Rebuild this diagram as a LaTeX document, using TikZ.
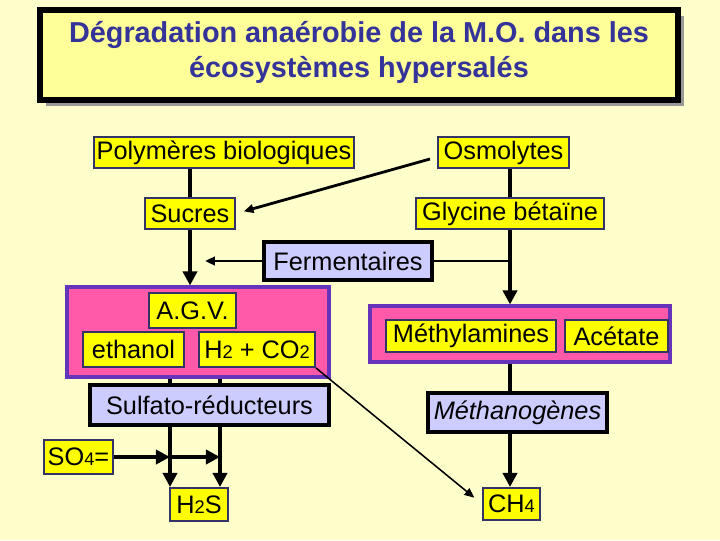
\documentclass[tikz,border=0pt]{standalone}
\usepackage{fontspec}
\setmainfont{Liberation Sans}
\usepackage{xcolor}
\usetikzlibrary{arrows.meta, fit}

\definecolor{fond}{HTML}{FFFFCC}
\definecolor{jaune}{HTML}{FFFF00}
\definecolor{jaunepale}{HTML}{FFFF99}
\definecolor{lavande}{HTML}{CCCCFF}
\definecolor{rose}{HTML}{FF5AAA}
\definecolor{violet}{HTML}{6633BB}
\definecolor{bleutitre}{HTML}{333399}
\definecolor{bordbleu}{HTML}{333366}
\definecolor{ombre}{HTML}{999999}

% petits chiffres (H2, CO2, SO4, CH4)
\newcommand{\ind}[1]{{\fontsize{13}{13}\selectfont #1}}

\tikzset{
  produit/.style={draw=bordbleu, line width=1.4pt, fill=jaune, font=\fontsize{18}{18}\selectfont, inner sep=0pt},
  groupe/.style={draw=violet, line width=2.2pt, fill=rose, inner sep=0pt},
  bacterie/.style={draw=black, line width=3.2pt, fill=lavande, font=\fontsize{18}{18}\selectfont, inner sep=0pt},
  trait/.style={line width=2.9pt},
  fleche/.style={line width=2.9pt, -{Triangle[length=10pt, width=10pt]}},
  fleche fine/.style={line width=1.5pt, -{Triangle[length=7pt, width=6pt]}},
}

\begin{document}
\begin{tikzpicture}[x=0.025cm, y=-0.025cm]

	% Background and bounding box
	\fill[fond] (0,0) rectangle (720,540);
	\useasboundingbox (0,0) rectangle (720,540);

	% Title box with its shadow
	\fill[ombre] (46,16) rectangle (684,106);
	\draw[line width=4pt, fill=jaunepale] (40,10) rectangle (678,100);
	\node[align=center, text=bleutitre, font=\bfseries\fontsize{20.5}{25}\selectfont] (titre) at (359,52)
		{Dégradation anaérobie de la M.O. dans les\\écosystèmes hypersalés};

	% Groups (pink boxes)
	\node[groupe, fit={(67,287) (329,377)}] (grpL) {};
	\node[groupe, fit={(370,306) (670,362)}] (grpR) {};

	% Substrates
	\node[produit, minimum width=6.5cm, minimum height=0.775cm] (poly) at (224,152.5) {Polymères biologiques};
	\node[produit, minimum width=3.275cm, minimum height=0.775cm] (osmo) at (503.5,152.5) {Osmolytes};
	\node[produit, minimum width=2.25cm, minimum height=0.775cm] (sucres) at (190,213.5) {Sucres};
	\node[produit, minimum width=4.7cm, minimum height=0.775cm] (glycine) at (510,213.5) {Glycine bétaïne};

	% Products
	\node[produit, minimum width=2.175cm, minimum height=0.875cm] (agv) at (192.5,310.5) {A.G.V.};
	\node[produit, minimum width=2.525cm, minimum height=0.875cm] (ethanol) at (133.5,349.5) {ethanol};
	\node[produit, minimum width=2.9cm, minimum height=0.875cm] (h2co2) at (257,349.5) {H\ind{2} + CO\ind{2}};
	\node[produit, minimum width=4.25cm, minimum height=0.8cm] (methylam) at (471,336) {Méthylamines};
	\node[produit, minimum width=2.575cm, minimum height=0.8cm] (acetate) at (616.5,336) {Acétate};
	\node[produit, minimum width=1.725cm, minimum height=0.85cm] (so4) at (78.5,457) {SO\ind{4}=};
	\node[produit, minimum width=1.45cm, minimum height=0.825cm] (h2s) at (199,504.5) {H\ind{2}S};
	\node[produit, minimum width=1.425cm, minimum height=0.8cm] (ch4) at (511.5,504) {CH\ind{4}};

	% Bacteria
	\node[bacterie, minimum width=4.2cm, minimum height=0.95cm] (ferm) at (348,261) {Fermentaires};
	\node[bacterie, minimum width=5.975cm, minimum height=1cm] (sulfato) at (209.5,405) {Sulfato-réducteurs};
	\node[bacterie, minimum width=4.475cm, minimum height=0.975cm, font=\itshape\fontsize{18}{18}\selectfont] (methano) at (517.5,412.5) {Méthanogènes};

	% Helper coordinates
	\coordinate (osmodep) at (430,159);
	\coordinate (fermpointe) at (205,0);
	\coordinate (colA) at (170,0);
	\coordinate (colB) at (220,0);

	% Left branch
	\draw[trait] (poly.south -| sucres) -- (sucres.north);
	\draw[fleche] (sucres.south) -- (grpL.north -| sucres);
	\draw[line width=2pt, -{Triangle[length=7pt, width=6pt]}, shorten >=0.2cm] (osmodep) -- (sucres.east);

	% Right branch
	\draw[trait] (osmo.south -| glycine) -- (glycine.north);
	\draw[fleche] (glycine.south) -- (grpR.north -| glycine);
	\draw[trait] (grpR.south -| glycine) -- (methano.north -| glycine);
	\draw[fleche] (methano.south -| glycine) -- (ch4.north -| glycine);

	% Fermentaires
	\draw[line width=2pt, -{Triangle[length=7pt, width=6pt]}] (ferm.west) -- (ferm.west -| fermpointe);
	\draw[line width=2pt] (ferm.east) -- (ferm.east -| glycine);

	% Sulfato-reducteurs
	\draw[trait] (grpL.south -| colA) -- (sulfato.north -| colA);
	\draw[trait] (grpL.south -| colB) -- (sulfato.north -| colB);
	\draw[fleche] (sulfato.south -| colA) -- (h2s.north -| colA);
	\draw[fleche] (sulfato.south -| colB) -- (h2s.north -| colB);
	\draw[fleche] (so4.east) -- (so4.east -| colA);
	\draw[fleche] (so4.east -| colA) -- (so4.east -| colB);

	% H2 + CO2 towards CH4
	\draw[fleche fine, line width=1.1pt, shorten >=0.25cm] (h2co2.south east) -- (ch4.west);

\end{tikzpicture}
\end{document}
